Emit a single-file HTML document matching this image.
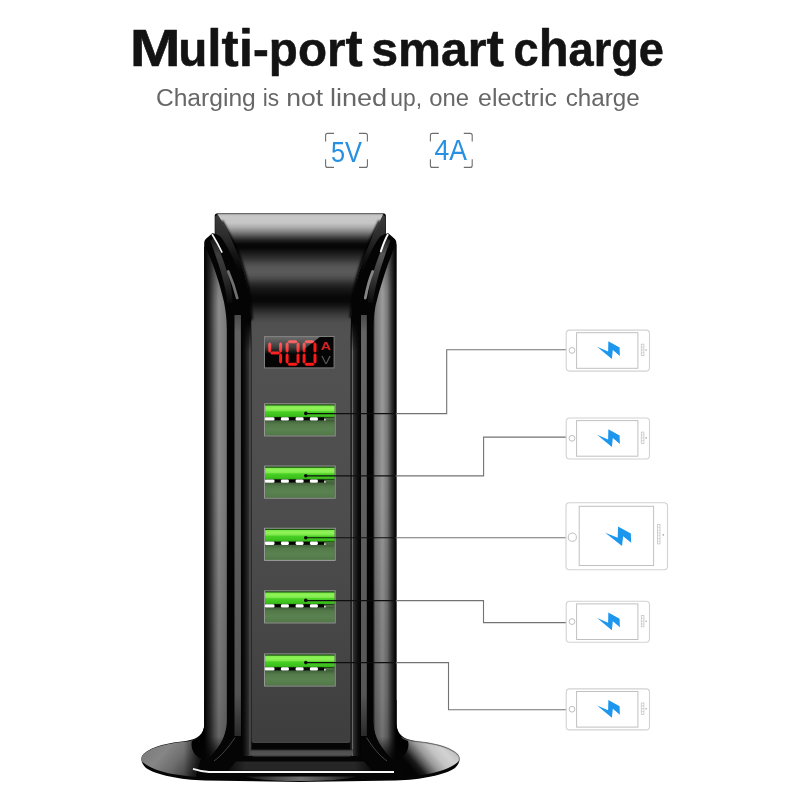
<!DOCTYPE html>
<html>
<head>
<meta charset="utf-8">
<title>Multi-port smart charge</title>
<style>
  html, body { margin: 0; padding: 0; background: #ffffff; }
  body { width: 800px; height: 800px; overflow: hidden; position: relative; font-family: "Liberation Sans", sans-serif; }
  svg { position: absolute; left: 0; top: 0; display: block; }
  text { font-family: "Liberation Sans", sans-serif; }
</style>
</head>
<body>
<svg width="800" height="800" viewBox="0 0 800 800">
  <defs>
    <!-- face horizontal bands -->
    <linearGradient id="faceG" x1="0" y1="200" x2="0" y2="750" gradientUnits="userSpaceOnUse">
      <stop offset="0.02400" stop-color="#8a8a8a"/>
      <stop offset="0.02655" stop-color="#bcbcbc"/>
      <stop offset="0.02909" stop-color="#c8c8c8"/>
      <stop offset="0.04182" stop-color="#c6c6c6"/>
      <stop offset="0.05000" stop-color="#aaaaaa"/>
      <stop offset="0.05818" stop-color="#808080"/>
      <stop offset="0.06500" stop-color="#555555"/>
      <stop offset="0.07318" stop-color="#222222"/>
      <stop offset="0.08000" stop-color="#080808"/>
      <stop offset="0.08727" stop-color="#060606"/>
      <stop offset="0.09636" stop-color="#1a1a1a"/>
      <stop offset="0.10727" stop-color="#333333"/>
      <stop offset="0.11455" stop-color="#484848"/>
      <stop offset="0.12182" stop-color="#565656"/>
      <stop offset="0.13091" stop-color="#5a5a5a"/>
      <stop offset="0.13727" stop-color="#555555"/>
      <stop offset="0.14455" stop-color="#444444"/>
      <stop offset="0.15273" stop-color="#2a2a2a"/>
      <stop offset="0.16000" stop-color="#1a1a1a"/>
      <stop offset="0.16836" stop-color="#101010"/>
      <stop offset="0.17636" stop-color="#080808"/>
      <stop offset="0.18455" stop-color="#080808"/>
      <stop offset="0.19227" stop-color="#151515"/>
      <stop offset="0.20000" stop-color="#282828"/>
      <stop offset="0.20818" stop-color="#3a3a3a"/>
      <stop offset="0.21636" stop-color="#484848"/>
      <stop offset="0.22364" stop-color="#4f4f4f"/>
      <stop offset="0.24000" stop-color="#515151"/>
      <stop offset="0.36364" stop-color="#505050"/>
      <stop offset="0.56364" stop-color="#4d4d4d"/>
      <stop offset="0.79091" stop-color="#464646"/>
      <stop offset="0.92727" stop-color="#404040"/>
      <stop offset="0.98364" stop-color="#3e3e3e"/>
      <stop offset="0.98618" stop-color="#464646"/>
      <stop offset="0.98727" stop-color="#3a3a3a"/>
    </linearGradient>
    <linearGradient id="colL" x1="204.2" y1="0" x2="227" y2="0" gradientUnits="userSpaceOnUse">
      <stop offset="0" stop-color="#000000"/>
      <stop offset="0.06" stop-color="#0a0a0a"/>
      <stop offset="0.25" stop-color="#2c2c2c"/>
      <stop offset="0.47" stop-color="#666666"/>
      <stop offset="0.64" stop-color="#8c8c8c"/>
      <stop offset="0.8" stop-color="#838383"/>
      <stop offset="1" stop-color="#777777"/>
    </linearGradient>
    <linearGradient id="colLv" x1="0" y1="240" x2="0" y2="760" gradientUnits="userSpaceOnUse">
      <stop offset="0" stop-color="#040404" stop-opacity="0.35"/>
      <stop offset="0.12" stop-color="#040404" stop-opacity="0.0"/>
      <stop offset="0.5" stop-color="#040404" stop-opacity="0.04"/>
      <stop offset="0.65" stop-color="#040404" stop-opacity="0.1"/>
      <stop offset="0.88" stop-color="#040404" stop-opacity="0.2"/>
      <stop offset="0.955" stop-color="#040404" stop-opacity="0.28"/>
      <stop offset="1" stop-color="#040404" stop-opacity="1"/>
    </linearGradient>
    <linearGradient id="colR" x1="373.4" y1="0" x2="396.4" y2="0" gradientUnits="userSpaceOnUse">
      <stop offset="0" stop-color="#303030"/>
      <stop offset="0.08" stop-color="#747474"/>
      <stop offset="0.4" stop-color="#9b9b9b"/>
      <stop offset="0.6" stop-color="#7a7a7a"/>
      <stop offset="0.79" stop-color="#343434"/>
      <stop offset="0.93" stop-color="#0c0c0c"/>
      <stop offset="1" stop-color="#000000"/>
    </linearGradient>
    <linearGradient id="colRv" x1="0" y1="240" x2="0" y2="760" gradientUnits="userSpaceOnUse">
      <stop offset="0" stop-color="#040404" stop-opacity="0.3"/>
      <stop offset="0.1" stop-color="#040404" stop-opacity="0.0"/>
      <stop offset="0.5" stop-color="#040404" stop-opacity="0.03"/>
      <stop offset="0.65" stop-color="#040404" stop-opacity="0.1"/>
      <stop offset="0.88" stop-color="#040404" stop-opacity="0.2"/>
      <stop offset="0.955" stop-color="#040404" stop-opacity="0.28"/>
      <stop offset="1" stop-color="#040404" stop-opacity="1"/>
    </linearGradient>
    <linearGradient id="bevL" x1="241" y1="0" x2="251.8" y2="0" gradientUnits="userSpaceOnUse">
      <stop offset="0" stop-color="#000000"/>
      <stop offset="0.3" stop-color="#0e0e0e"/>
      <stop offset="0.72" stop-color="#2e2e2e"/>
      <stop offset="0.76" stop-color="#1c1c1c"/>
      <stop offset="0.8" stop-color="#585858"/>
      <stop offset="0.87" stop-color="#585858"/>
      <stop offset="0.9" stop-color="#141414"/>
      <stop offset="1" stop-color="#1c1c1c"/>
    </linearGradient>
    <linearGradient id="bevR" x1="360.8" y1="0" x2="350.2" y2="0" gradientUnits="userSpaceOnUse">
      <stop offset="0" stop-color="#000000"/>
      <stop offset="0.3" stop-color="#0e0e0e"/>
      <stop offset="0.7" stop-color="#2e2e2e"/>
      <stop offset="0.74" stop-color="#1c1c1c"/>
      <stop offset="0.77" stop-color="#666666"/>
      <stop offset="0.85" stop-color="#666666"/>
      <stop offset="0.88" stop-color="#1a1a1a"/>
      <stop offset="1" stop-color="#222222"/>
    </linearGradient>
    <linearGradient id="bevTop" x1="0" y1="322" x2="0" y2="352" gradientUnits="userSpaceOnUse">
      <stop offset="0" stop-color="#040404" stop-opacity="1"/>
      <stop offset="1" stop-color="#040404" stop-opacity="0"/>
    </linearGradient>
    <linearGradient id="botBev" x1="0" y1="749.4" x2="0" y2="756.7" gradientUnits="userSpaceOnUse">
      <stop offset="0" stop-color="#2a2a2a"/>
      <stop offset="0.3" stop-color="#505050"/>
      <stop offset="0.75" stop-color="#545454"/>
      <stop offset="1" stop-color="#2a2a2a"/>
    </linearGradient>
    <linearGradient id="frontRefl" x1="228" y1="0" x2="372" y2="0" gradientUnits="userSpaceOnUse">
      <stop offset="0" stop-color="#0c0c0c"/>
      <stop offset="0.12" stop-color="#262626"/>
      <stop offset="0.88" stop-color="#262626"/>
      <stop offset="1" stop-color="#0c0c0c"/>
    </linearGradient>
    <linearGradient id="baseRefl" x1="250" y1="0" x2="352" y2="0" gradientUnits="userSpaceOnUse">
      <stop offset="0" stop-color="#1a1a1a"/>
      <stop offset="0.25" stop-color="#4a4a4a"/>
      <stop offset="0.5" stop-color="#707070"/>
      <stop offset="0.75" stop-color="#4a4a4a"/>
      <stop offset="1" stop-color="#1a1a1a"/>
    </linearGradient>
    <linearGradient id="wedge" x1="0" y1="214" x2="0" y2="272" gradientUnits="userSpaceOnUse">
      <stop offset="0" stop-color="#3c3c3c"/>
      <stop offset="0.35" stop-color="#2e2e2e"/>
      <stop offset="0.7" stop-color="#141414"/>
      <stop offset="1" stop-color="#040404"/>
    </linearGradient>
    <linearGradient id="wingL" x1="0" y1="238" x2="0" y2="303" gradientUnits="userSpaceOnUse">
      <stop offset="0" stop-color="#151515"/>
      <stop offset="0.25" stop-color="#3e3e3e"/>
      <stop offset="0.6" stop-color="#2e2e2e"/>
      <stop offset="1" stop-color="#0a0a0a"/>
    </linearGradient>
    <linearGradient id="wingR" x1="0" y1="238" x2="0" y2="303" gradientUnits="userSpaceOnUse">
      <stop offset="0" stop-color="#1a1a1a"/>
      <stop offset="0.25" stop-color="#565656"/>
      <stop offset="0.6" stop-color="#383838"/>
      <stop offset="1" stop-color="#0a0a0a"/>
    </linearGradient>
    <linearGradient id="stripeL" x1="0" y1="315" x2="0" y2="736" gradientUnits="userSpaceOnUse">
      <stop offset="0" stop-color="#4a4a4a"/>
      <stop offset="0.04" stop-color="#606060"/>
      <stop offset="0.5" stop-color="#5c5c5c"/>
      <stop offset="0.9" stop-color="#525252"/>
      <stop offset="1" stop-color="#2a2a2a"/>
    </linearGradient>
    <linearGradient id="stripeR" x1="0" y1="315" x2="0" y2="736" gradientUnits="userSpaceOnUse">
      <stop offset="0" stop-color="#4a4a4a"/>
      <stop offset="0.04" stop-color="#646464"/>
      <stop offset="0.5" stop-color="#5e5e5e"/>
      <stop offset="0.9" stop-color="#565656"/>
      <stop offset="1" stop-color="#2a2a2a"/>
    </linearGradient>
    <linearGradient id="glare" x1="0" y1="337" x2="0" y2="354" gradientUnits="userSpaceOnUse">
      <stop offset="0" stop-color="#e8e8e8" stop-opacity="0.45"/>
      <stop offset="0.6" stop-color="#e8e8e8" stop-opacity="0.25"/>
      <stop offset="1" stop-color="#e8e8e8" stop-opacity="0.0"/>
    </linearGradient>
    <linearGradient id="portTop" x1="0" y1="0" x2="0" y2="1">
      <stop offset="0" stop-color="#0c3a04"/>
      <stop offset="0.08" stop-color="#1a5a0a"/>
      <stop offset="0.13" stop-color="#7eea4a"/>
      <stop offset="0.3" stop-color="#90f458"/>
      <stop offset="0.48" stop-color="#7ee84a"/>
      <stop offset="0.56" stop-color="#48d024"/>
      <stop offset="0.85" stop-color="#3cc01c"/>
      <stop offset="1" stop-color="#2a9a12"/>
    </linearGradient>
    <linearGradient id="portBot" x1="0" y1="0" x2="0" y2="1">
      <stop offset="0" stop-color="#40603a"/>
      <stop offset="0.25" stop-color="#547a4a"/>
      <stop offset="0.6" stop-color="#5a8250"/>
      <stop offset="1" stop-color="#527848"/>
    </linearGradient>
    <linearGradient id="baseR" x1="406" y1="762" x2="438" y2="734.7" gradientUnits="userSpaceOnUse">
      <stop offset="0" stop-color="#040404"/>
      <stop offset="0.15" stop-color="#1a1a1a"/>
      <stop offset="0.3" stop-color="#606060"/>
      <stop offset="0.45" stop-color="#9a9a9a"/>
      <stop offset="0.65" stop-color="#c4c4c4"/>
      <stop offset="0.85" stop-color="#d2d2d2"/>
      <stop offset="1" stop-color="#c4c4c4"/>
    </linearGradient>
    <linearGradient id="baseL" x1="150" y1="744" x2="190" y2="778" gradientUnits="userSpaceOnUse">
      <stop offset="0" stop-color="#7c7c7c"/>
      <stop offset="0.3" stop-color="#868686"/>
      <stop offset="0.6" stop-color="#6e6e6e"/>
      <stop offset="0.85" stop-color="#4a4a4a"/>
      <stop offset="1" stop-color="#303030"/>
    </linearGradient>
    <linearGradient id="baseLs" x1="184" y1="0" x2="204" y2="0" gradientUnits="userSpaceOnUse">
      <stop offset="0" stop-color="#040404" stop-opacity="0"/>
      <stop offset="0.5" stop-color="#040404" stop-opacity="0.45"/>
      <stop offset="1" stop-color="#040404" stop-opacity="1"/>
    </linearGradient>

    <clipPath id="faceClip"><path d="M217 213.4 H383.5 C373 236 354.5 268 351 318 L350.4 340 V740.5 Q350.4 743 348 743 H254 Q251.6 743 251.6 740.5 V340 L251.2 320 C250 270 230 234 217 213.4 Z"/></clipPath>
    <filter id="blur1" x="-10%" y="-10%" width="120%" height="120%"><feGaussianBlur stdDeviation="1.3"/></filter>
    <!-- USB port symbol, origin = top-left of frame (71.4 x 33.2) -->
    <g id="port">
      <rect x="0" y="0" width="71.6" height="33.2" fill="#1a2a12"/>
      <rect x="1" y="0.8" width="69.6" height="13.6" fill="url(#portTop)"/>
      <rect x="1" y="13.9" width="69.6" height="3.4" fill="#060606"/>
      <rect x="1" y="17.1" width="69.6" height="15.2" fill="url(#portBot)"/>
      <rect x="60" y="14.2" width="10.6" height="3.2" fill="#4a6c40"/>
      <rect x="0.6" y="13.9" width="9.8" height="3.3" rx="1.3" fill="#fff"/>
      <rect x="16.8" y="13.9" width="8" height="3.3" rx="1.3" fill="#fff"/>
      <rect x="31.5" y="13.9" width="8" height="3.3" rx="1.3" fill="#fff"/>
      <rect x="45.8" y="13.9" width="8" height="3.3" rx="1.3" fill="#fff"/>
      <rect x="60" y="15.6" width="1.6" height="1.6" fill="#ddd"/>
      <rect x="0.5" y="0.5" width="70.6" height="32.2" fill="none" stroke="#a4a4a4" stroke-width="1"/>
    </g>

    <!-- bolt: origin at left tip region; native size ~22.75 x 17.75 -->
    <path id="bolt" d="M0 5.5 L11 10.25 L11.25 0 L22.5 6.25 L22.75 14.75 L15.75 8.75 L14.75 17.75 Z" fill="#1d97ee"/>

    <!-- phone symbol: origin top-left, 84 x 42 -->
    <g id="phone">
      <rect x="0.5" y="0.5" width="83.3" height="41" rx="3.5" fill="#fff" stroke="#d2d2d2" stroke-width="1.1"/>
      <rect x="10.9" y="3.1" width="61.3" height="35.6" fill="#fff" stroke="#c0c0c0" stroke-width="1"/>
      <circle cx="6.3" cy="20.8" r="2.9" fill="#fff" stroke="#b8b8b8" stroke-width="0.9"/>
      <rect x="75.6" y="14.6" width="2.6" height="11.4" fill="#fff" stroke="#c6c6c6" stroke-width="0.8"/>
      <path d="M75.6 17.4 H78.2 M75.6 20.3 H78.2 M75.6 23.2 H78.2" stroke="#c6c6c6" stroke-width="0.7" fill="none"/>
      <circle cx="80.4" cy="20.4" r="0.8" fill="#a8a8a8"/>
      <use href="#bolt" x="31.4" y="11.7"/>
    </g>
  </defs>

  <!-- ============ TEXT ============ -->
  <g id="title" font-size="47.5" font-weight="700" fill="#111111" stroke="#111111" stroke-width="0.5" stroke-linejoin="round" opacity="0.99">
    <text x="129.8" y="65.6" font-size="51.5" textLength="51" lengthAdjust="spacingAndGlyphs">M</text>
    <text x="178.2" y="65.6" textLength="184.4" lengthAdjust="spacingAndGlyphs">u<tspan font-size="51.5">lti</tspan>-por<tspan font-size="51.5">t</tspan></text>
    <text x="371.25" y="65.6" textLength="132.75" lengthAdjust="spacingAndGlyphs">smar<tspan font-size="51.5">t</tspan></text>
    <text x="513.50" y="65.6" textLength="150.50" lengthAdjust="spacingAndGlyphs">c<tspan font-size="51.5">h</tspan>arge</text>
  </g>
  <g id="subtitle" font-size="23.5" fill="#666666" opacity="0.99">
    <text x="155.90" y="105.8" textLength="99.90" lengthAdjust="spacingAndGlyphs">Charging</text>
    <text x="262.70" y="105.8" textLength="16.40" lengthAdjust="spacingAndGlyphs">is</text>
    <text x="286.20" y="105.8" textLength="36.90" lengthAdjust="spacingAndGlyphs">not</text>
    <text x="329.95" y="105.8" textLength="57.15" lengthAdjust="spacingAndGlyphs">lined</text>
    <text x="390.30" y="105.8" textLength="31.80" lengthAdjust="spacingAndGlyphs">up,</text>
    <text x="429.30" y="105.8" textLength="39.80" lengthAdjust="spacingAndGlyphs">one</text>
    <text x="478.10" y="105.8" textLength="78.75" lengthAdjust="spacingAndGlyphs">electric</text>
    <text x="565.70" y="105.8" textLength="74.00" lengthAdjust="spacingAndGlyphs">charge</text>
  </g>

  <!-- 5V / 4A badges -->
  <g fill="none" stroke="#6e6e6e" stroke-width="1.1">
    <path d="M325.6 141.6 V135.4 Q325.6 133.4 327.6 133.4 H334 M359 133.4 H365.4 Q367.4 133.4 367.4 135.4 V141.6 M367.4 159.2 V165.4 Q367.4 167.4 365.4 167.4 H359 M334 167.4 H327.6 Q325.6 167.4 325.6 165.4 V159.2"/>
    <path d="M430.4 141.6 V135.4 Q430.4 133.4 432.4 133.4 H438.8 M463.8 133.4 H470.2 Q472.2 133.4 472.2 135.4 V141.6 M472.2 159.2 V165.4 Q472.2 167.4 470.2 167.4 H463.8 M438.8 167.4 H432.4 Q430.4 167.4 430.4 165.4 V159.2"/>
  </g>
  <text x="331" y="162" font-size="29" fill="#258fe0" opacity="0.99" textLength="31" lengthAdjust="spacingAndGlyphs">5V</text>
  <text x="434.5" y="160" font-size="30" fill="#258fe0" opacity="0.99" textLength="32.5" lengthAdjust="spacingAndGlyphs">4A</text>

  <!-- ============ CHARGER ============ -->
  <g id="charger">
    <!-- base disc -->
    <path d="M204.5 700 V724 C204 734 198 739 186 741 C170 742.5 152 746 143.5 754 C140 758 141 763 146 768 C156 775 180 779.6 205 780.6 L300 782 L396 780.6 C421 779.6 445 775 455 768 C460 763 461 758 457.5 754 C449 746 431 742.5 415 741 C403 739 397 734 396.5 724 V700 Z" fill="#050505"/>
    <!-- reflection band on base front -->
    <path d="M236 761.5 H364 L372 770.8 H228 Z" fill="url(#frontRefl)"/>
    <path d="M246 776.6 H356 C340 782.6 262 782.6 246 776.6 Z" fill="url(#baseRefl)"/>
    <!-- right disc top surface (light) -->
    <path d="M401 737.5 C405 740.5 411 741.3 418 741.9 C432 743.2 448 746.6 456.4 753.6 C459.4 756.5 460 759 458.8 761 C455 765.5 446 770 432 773.2 C422 775.2 412 776.2 405 776.5 L398 752 Z" fill="url(#baseR)"/>
    <path d="M401 737.5 C405 740.5 411 741.3 418 741.9 C432 743.2 448 746.6 456.4 753.6 C459.4 756.5 460 759 458.8 761" fill="none" stroke="#8a8a8a" stroke-width="1.6" opacity="0.55"/>
    <!-- left disc top surface -->
    <path d="M199.5 737.5 C195.5 740.5 189.5 741.3 182.5 741.9 C168.5 743.2 152.5 746.6 144.1 753.6 C141.1 756.5 140.5 759 141.7 761 C145.5 765.5 154.5 770 168.5 773.2 C178.5 775.2 188.5 776.2 195.5 776.5 L202.5 752 Z" fill="url(#baseL)"/>
    <path d="M199.5 737.5 C195.5 740.5 189.5 741.3 182.5 741.9 C168.5 743.2 152.5 746.6 144.1 753.6 C141.1 756.5 140.5 759 141.7 761 C145.5 765.5 154.5 770 168.5 773.2 C178.5 775.2 188.5 776.2 195.5 776.5 L202.5 752 Z" fill="url(#baseLs)"/>
    <!-- outer body (shoulders + columns) -->
    <path d="M204.2 243 C204.2 240 206 238.5 208 237 L212 233.6 C213 233 214 233.2 214.7 234 V216 Q214.7 213.2 218 213.2 H383 Q385.9 213.2 385.9 216 V234 C386.6 233.2 387.6 233 388.6 233.6 L392.6 237 C394.6 238.5 396.4 240 396.4 243 V740 H204.2 Z" fill="#040404"/>
    <!-- left column lit area -->
    <path d="M204.2 246 C210 255 219 280 224 302 C226 312 226.8 320 226.8 330 V722 C226 738 218 750 205 760 C196 758 190 750 192 741 C199 739 204 734 204.2 724 Z" fill="url(#colL)"/>
    <path d="M204.2 246 C210 255 219 280 224 302 C226 312 226.8 320 226.8 330 V722 C226 738 218 750 205 760 C196 758 190 750 192 741 C199 739 204 734 204.2 724 Z" fill="url(#colLv)"/>
    <!-- right column lit area -->
    <path d="M396.4 244 C391 254 383 278 377.5 298 C374.5 308 373.4 318 373.4 330 V722 C374 738 382 750 395 760 C404 758 410 750 408 741 C401 739 397 734 396.4 724 Z" fill="url(#colR)"/>
    <path d="M396.4 244 C391 254 383 278 377.5 298 C374.5 308 373.4 318 373.4 330 V722 C374 738 382 750 395 760 C404 758 410 750 408 741 C401 739 397 734 396.4 724 Z" fill="url(#colRv)"/>
    <!-- dark-grey wedges beside the face top -->
    <path d="M215.2 216.5 L217.6 214.4 C229 233 240 252 245 272 L238.5 272 C234 258 226 244 220.5 236.5 L215.2 233.5 Z" fill="url(#wedge)"/>
    <path d="M385.4 216.5 L383 214.4 C373.5 233 361 252 356.5 272 L363 272 C367 258 374.6 244 380.1 236.5 L385.4 233.5 Z" fill="url(#wedge)"/>
    <!-- shoulder highlights: left -->
    <path d="M214 238 C219 248 226 266 230.5 284 C232 291 232.5 297 232.5 303 L227.5 303 C226.5 292 222 274 217 260 C214.5 252 212 245 210 240.5 Z" fill="url(#wingL)"/>
    <path d="M212.4 234.8 C215 239 219 246 221.8 252" stroke="#f4f4f4" stroke-width="1.7" fill="none" stroke-linecap="round"/>
    <path d="M228.2 271.5 C231.5 279 235 289 237.2 298" stroke="#707070" stroke-width="2.8" fill="none" stroke-linecap="round"/>
    <!-- shoulder highlights: right -->
    <path d="M386.5 238 C381.5 248 374.5 266 370 284 C368.5 291 368 297 368 303 L373 303 C374 292 378.5 274 383.5 260 C386 252 388.5 245 390.5 240.5 Z" fill="url(#wingR)"/>
    <path d="M387.7 234.8 C385.2 239 383 245 380.8 251.4" stroke="#f8f8f8" stroke-width="1.9" fill="none" stroke-linecap="round"/>
    <path d="M372.7 271.5 C369.6 279 367 289 365.3 298" stroke="#868686" stroke-width="2.8" fill="none" stroke-linecap="round"/>
    <!-- inner grey stripes -->
    <rect x="234.5" y="315" width="6.4" height="421" fill="url(#stripeL)"/>
    <rect x="361" y="315" width="5.8" height="421" fill="url(#stripeR)"/>
    <path d="M235 737.6 C228 748 221 756 214 761" stroke="#4c4c4c" stroke-width="0.9" fill="none"/>
    <path d="M366.6 737.6 C373 748 380 756 387 761" stroke="#4c4c4c" stroke-width="0.9" fill="none"/>
    <!-- bevel bands between stripes and face -->
    <rect x="241" y="322" width="10.8" height="434" fill="url(#bevL)"/>
    <rect x="350.2" y="322" width="10.6" height="434" fill="url(#bevR)"/>
    <rect x="241" y="322" width="10.8" height="30" fill="url(#bevTop)"/>
    <rect x="350.2" y="322" width="10.6" height="30" fill="url(#bevTop)"/>
    <!-- face -->
    <path d="M217 213.4 H383.5 C373 236 354.5 268 351 318 L350.4 340 V740.5 Q350.4 743 348 743 H254 Q251.6 743 251.6 740.5 V340 L251.2 320 C250 270 230 234 217 213.4 Z" fill="url(#faceG)"/>
    <g clip-path="url(#faceClip)">
      <path d="M380 221 C371 240 354.5 268 351 318 M251.2 320 C250 270 232 240 221.5 221" fill="none" stroke="#000" stroke-width="3" filter="url(#blur1)"/>
      <path d="M217 213.7 H383.5" fill="none" stroke="#6a6a6a" stroke-width="1"/>
    </g>
    <!-- bevel below face -->
    <path d="M250.4 749.4 H352.8 V752.5 Q352.8 756.7 348.5 756.7 H254.7 Q250.4 756.7 250.4 752.5 Z" fill="url(#botBev)"/>
    <!-- bottom highlight line -->
    <path d="M193 768.8 C198 770.4 203 771.6 209 772 H394" stroke="#f8f8f8" stroke-width="1.8" fill="none"/>

    <!-- display -->
    <rect x="264.5" y="336.5" width="69.6" height="31.4" fill="#050505"/>
    <g id="digits" fill="#ff1a1a">
      <path d="M271.55 351.50 H278.75 L280.25 353.00 L278.75 354.50 H271.55 L270.05 353.00 Z M268.20 343.65 L269.70 342.15 L271.20 343.65 V351.15 L269.70 352.65 L268.20 351.15 Z M279.10 343.65 L280.60 342.15 L282.10 343.65 V351.15 L280.60 352.65 L279.10 351.15 Z M279.10 354.85 L280.60 353.35 L282.10 354.85 V362.35 L280.60 363.85 L279.10 362.35 Z"/>
      <path d="M288.95 340.30 H296.15 L297.65 341.80 L296.15 343.30 H288.95 L287.45 341.80 Z M288.95 362.70 H296.15 L297.65 364.20 L296.15 365.70 H288.95 L287.45 364.20 Z M285.60 343.65 L287.10 342.15 L288.60 343.65 V351.15 L287.10 352.65 L285.60 351.15 Z M296.50 343.65 L298.00 342.15 L299.50 343.65 V351.15 L298.00 352.65 L296.50 351.15 Z M285.60 354.85 L287.10 353.35 L288.60 354.85 V362.35 L287.10 363.85 L285.60 362.35 Z M296.50 354.85 L298.00 353.35 L299.50 354.85 V362.35 L298.00 363.85 L296.50 362.35 Z"/>
      <path d="M305.95 340.30 H313.15 L314.65 341.80 L313.15 343.30 H305.95 L304.45 341.80 Z M305.95 362.70 H313.15 L314.65 364.20 L313.15 365.70 H305.95 L304.45 364.20 Z M302.60 343.65 L304.10 342.15 L305.60 343.65 V351.15 L304.10 352.65 L302.60 351.15 Z M313.50 343.65 L315.00 342.15 L316.50 343.65 V351.15 L315.00 352.65 L313.50 351.15 Z M302.60 354.85 L304.10 353.35 L305.60 354.85 V362.35 L304.10 363.85 L302.60 362.35 Z M313.50 354.85 L315.00 353.35 L316.50 354.85 V362.35 L315.00 363.85 L313.50 362.35 Z"/>
    </g>
    <text x="320.7" y="350" font-size="11" font-weight="700" fill="#d42424" opacity="0.99" textLength="10.4" lengthAdjust="spacingAndGlyphs">A</text>
    <text x="321.2" y="363.6" font-size="11" fill="#5a5a5a" opacity="0.99" textLength="9.6" lengthAdjust="spacingAndGlyphs">V</text>
    <path d="M265 337 H319.8 L298 354 H265 Z" fill="url(#glare)"/>
    <rect x="264.5" y="336.5" width="69.6" height="31.4" fill="none" stroke="#808080" stroke-width="1"/>

    <!-- ports -->
    <use href="#port" x="264.1" y="403.3"/>
    <use href="#port" x="264.1" y="465.5"/>
    <use href="#port" x="264.1" y="527.7"/>
    <use href="#port" x="264.1" y="590.3"/>
    <use href="#port" x="264.1" y="653.4"/>
  </g>

  <!-- ============ LEADER LINES ============ -->
  <g fill="none" stroke="#737373" stroke-width="1.1">
    <path d="M395 413.6 H446.7 V349.7 H566"/>
    <path d="M395 475.9 H483.6 V437.1 H566"/>
    <path d="M395 537.7 H566"/>
    <path d="M395 600.6 H483.5 V622.6 H566"/>
    <path d="M395 662.6 H448.5 V709.7 H566"/>
  </g>
  <g fill="none" stroke="#0e0e0e" stroke-width="1.1">
    <path d="M306 413.6 H396"/>
    <path d="M306 475.9 H396"/>
    <path d="M306 537.7 H396"/>
    <path d="M306 600.6 H396"/>
    <path d="M306 662.6 H396"/>
  </g>
  <g fill="#0a0a0a">
    <circle cx="305.8" cy="413.4" r="1.8"/>
    <circle cx="305.8" cy="475.7" r="1.8"/>
    <circle cx="305.8" cy="537.7" r="1.8"/>
    <circle cx="305.8" cy="600.4" r="1.8"/>
    <circle cx="305.8" cy="662.6" r="1.8"/>
  </g>

  <!-- ============ PHONES ============ -->
  <use href="#phone" x="565.7" y="329.6"/>
  <use href="#phone" x="565.7" y="417.5"/>
  <use href="#phone" x="565.7" y="600.8"/>
  <use href="#phone" x="565.7" y="688.4"/>
  <!-- tablet -->
  <g id="tablet">
    <rect x="566" y="502.7" width="101.5" height="67" rx="3.5" fill="#fff" stroke="#d2d2d2" stroke-width="1.1"/>
    <rect x="579.2" y="506.3" width="74.4" height="59.2" fill="#fff" stroke="#c0c0c0" stroke-width="1"/>
    <circle cx="572.3" cy="537.2" r="4.1" fill="#fff" stroke="#b8b8b8" stroke-width="0.9"/>
    <rect x="657.6" y="524.5" width="2.4" height="19.4" fill="#fff" stroke="#c6c6c6" stroke-width="0.8"/>
    <path d="M657.6 527.3 H660 M657.6 530.1 H660 M657.6 532.9 H660 M657.6 535.7 H660 M657.6 538.5 H660 M657.6 541.3 H660" stroke="#c6c6c6" stroke-width="0.6" fill="none"/>
    <circle cx="663.3" cy="534.8" r="0.9" fill="#a8a8a8"/>
    <use href="#bolt" transform="translate(605.2 526.6) scale(1.14 1.1)"/>
  </g>
</svg>
</body>
</html>
